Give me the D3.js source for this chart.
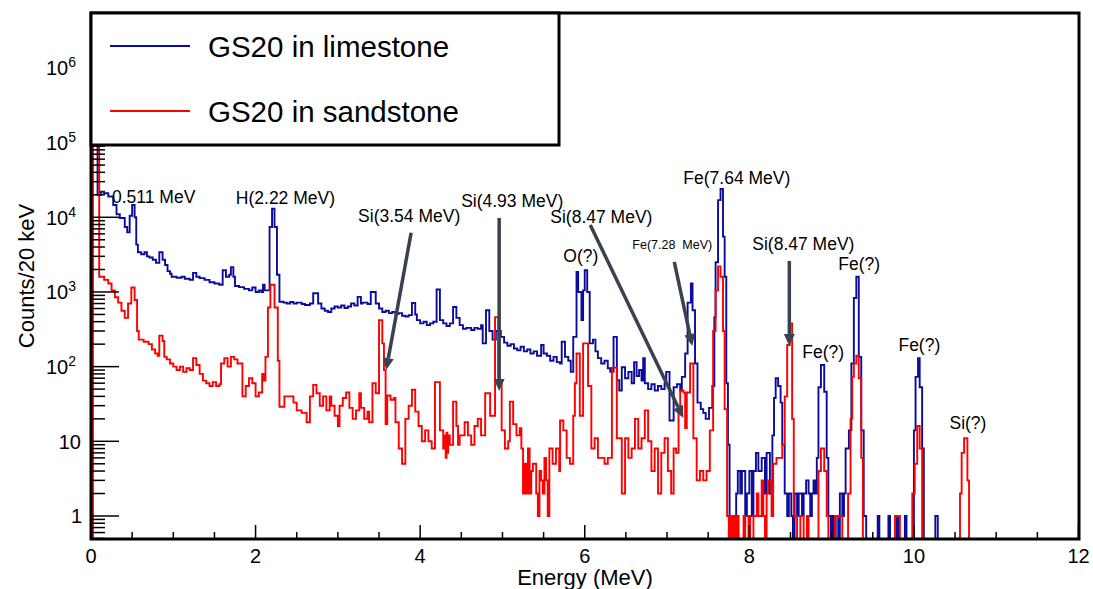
<!DOCTYPE html>
<html>
<head>
<meta charset="utf-8">
<script src="https://cdn.jsdelivr.net/npm/d3@7"></script>
<style>
  html, body { margin: 0; padding: 0; background: #ffffff; }
  text { font-family: "Liberation Sans", Arial, Helvetica, sans-serif; fill: #000; }
</style>
</head>
<body>
<svg id="chart" width="1093" height="589"></svg>
<script>
// ---------------- DATA ----------------
// Each entry: [bin lower edge in MeV, counts per 20 keV]; a bin lasts until the next edge (last one to 12 MeV).
const limestoneBins = [
  [0,0],[0.02,250000],[0.08,19800],[0.12,22000],[0.16,21000],[0.21,19000],[0.27,14600],[0.31,11000],[0.35,9800],
  [0.41,7400],[0.44,6300],[0.47,10500],[0.50,14600],[0.53,10000],[0.55,4300],[0.57,3400],[0.61,3200],[0.65,3400],
  [0.68,3000],[0.71,2900],[0.75,2700],[0.79,2450],[0.83,3400],[0.87,2700],[0.90,2300],[0.93,1900],[0.96,1750],
  [0.98,1600],[1.04,1550],[1.10,1600],[1.14,1500],[1.20,1450],[1.24,1800],[1.28,1600],[1.32,1530],[1.38,1450],
  [1.44,1350],[1.50,1300],[1.56,1250],[1.60,1950],[1.64,1600],[1.68,1700],[1.70,2150],[1.73,1600],[1.75,1200],
  [1.80,1160],[1.86,1100],[1.92,1050],[1.96,1150],[2.00,1000],[2.04,1050],[2.07,1000],[2.09,1250],[2.11,1050],
  [2.17,7400],[2.20,13000],[2.23,7400],[2.26,1700],[2.29,740],[2.34,720],[2.38,700],[2.42,735],[2.46,700],
  [2.50,720],[2.56,690],[2.60,670],[2.66,700],[2.70,960],[2.76,700],[2.80,600],[2.84,560],[2.88,540],[2.92,600],
  [2.96,640],[3.00,620],[3.04,660],[3.08,610],[3.12,640],[3.16,700],[3.20,660],[3.24,860],[3.28,700],[3.30,720],
  [3.36,690],[3.40,1000],[3.46,700],[3.50,600],[3.54,540],[3.58,560],[3.62,520],[3.66,540],[3.70,510],[3.74,520],
  [3.78,480],[3.82,470],[3.86,490],[3.90,710],[3.94,500],[3.96,420],[4.00,380],[4.04,400],[4.08,360],[4.12,380],
  [4.16,400],[4.20,1080],[4.24,420],[4.28,380],[4.32,350],[4.36,380],[4.40,630],[4.44,450],[4.48,360],[4.52,320],
  [4.56,330],[4.62,310],[4.66,330],[4.70,320],[4.74,360],[4.76,205],[4.80,570],[4.84,300],[4.88,230],[4.92,300],
  [4.98,250],[5.02,210],[5.06,190],[5.10,200],[5.14,175],[5.18,165],[5.22,185],[5.26,160],[5.30,170],[5.34,150],
  [5.38,160],[5.42,140],[5.47,195],[5.50,150],[5.54,140],[5.58,120],[5.62,135],[5.66,115],[5.70,110],[5.72,215],
  [5.76,135],[5.80,120],[5.83,85],[5.86,250],[5.90,1850],[5.92,1000],[5.96,420],[5.98,1050],[6.00,1950],[6.03,1000],
  [6.06,205],[6.10,230],[6.13,160],[6.16,130],[6.20,110],[6.24,120],[6.28,95],[6.31,85],[6.35,250],[6.39,66],
  [6.42,48],[6.45,98],[6.49,70],[6.53,85],[6.57,60],[6.60,115],[6.63,75],[6.66,90],[6.69,65],[6.71,130],[6.73,60],
  [6.77,50],[6.81,58],[6.85,48],[6.89,55],[6.93,50],[6.97,60],[6.99,85],[7.03,19],[7.08,53],[7.12,58],[7.16,48],
  [7.18,73],[7.22,150],[7.25,720],[7.29,1300],[7.31,570],[7.34,110],[7.37,33],[7.41,27],[7.44,24],[7.47,20],
  [7.51,28],[7.55,55],[7.575,460],[7.59,2500],[7.62,17000],[7.65,24000],[7.68,5500],[7.70,1600],[7.72,60],[7.74,9],
  [7.76,1],[7.84,2],[7.86,4],[7.89,2],[7.91,4],[7.95,1],[7.97,2],[8.00,4],[8.03,1],[8.05,4],[8.08,7],[8.11,4],
  [8.15,6],[8.19,2],[8.21,7],[8.25,2],[8.28,12],[8.30,38],[8.32,70],[8.35,55],[8.38,33],[8.40,9],[8.43,2],[8.46,1],
  [8.48,2],[8.51,1],[8.53,0],[8.55,2],[8.58,1],[8.60,2],[8.64,1],[8.66,2],[8.69,3],[8.72,2],[8.74,1],[8.76,2],
  [8.78,3],[8.80,2],[8.82,6],[8.84,53],[8.87,105],[8.91,46],[8.94,6],[8.96,1],[8.99,0],[9.01,1],[9.03,0],[9.05,1],
  [9.08,0],[9.10,2],[9.13,1],[9.15,2],[9.17,8],[9.21,14],[9.24,110],[9.27,830],[9.30,1600],[9.33,135],[9.36,14],
  [9.39,1],[9.42,0],[9.56,1],[9.58,0],[9.69,1],[9.71,0],[9.79,1],[9.81,0],[9.89,1],[9.91,0],[10.00,14],[10.02,73],
  [10.05,130],[10.07,53],[10.10,8],[10.12,0],[10.26,1],[10.29,0]
];

const sandstoneBins = [
  [0,0],[0.02,300000],[0.10,1600],[0.16,1450],[0.21,1300],[0.25,1050],[0.29,850],[0.33,720],[0.37,560],[0.41,450],
  [0.45,700],[0.49,1150],[0.53,780],[0.56,300],[0.58,230],[0.64,215],[0.70,200],[0.74,170],[0.78,150],[0.81,140],
  [0.83,260],[0.87,220],[0.89,135],[0.92,125],[0.96,110],[1.00,100],[1.04,90],[1.08,100],[1.12,85],[1.16,95],
  [1.20,90],[1.24,130],[1.28,105],[1.32,80],[1.36,65],[1.40,60],[1.44,55],[1.48,62],[1.52,55],[1.56,58],[1.58,110],
  [1.62,130],[1.66,100],[1.70,135],[1.74,125],[1.78,110],[1.84,40],[1.88,55],[1.92,70],[1.96,60],[2.00,40],
  [2.04,45],[2.08,80],[2.10,65],[2.12,135],[2.15,620],[2.18,1250],[2.23,620],[2.27,120],[2.29,29],[2.35,40],
  [2.40,40],[2.46,33],[2.50,26],[2.56,24],[2.62,18],[2.66,40],[2.70,57],[2.74,44],[2.78,30],[2.82,40],[2.86,26],
  [2.90,40],[2.92,30],[2.96,22],[3.00,16],[3.02,30],[3.06,38],[3.10,45],[3.14,28],[3.18,20],[3.22,26],[3.26,44],
  [3.28,28],[3.32,20],[3.36,25],[3.38,18],[3.42,60],[3.46,44],[3.50,420],[3.54,205],[3.56,90],[3.58,17],[3.60,41],
  [3.64,36],[3.68,38],[3.70,18],[3.74,8],[3.78,5],[3.82,20],[3.86,30],[3.90,49],[3.94,25],[3.98,16],[4.02,10],
  [4.06,14],[4.10,10],[4.14,8],[4.18,62],[4.24,14],[4.28,8],[4.30,12],[4.31,6],[4.32,13],[4.33,7],[4.34,12],
  [4.36,9],[4.40,34],[4.44,16],[4.46,9],[4.48,12],[4.54,18],[4.58,12],[4.62,9],[4.66,16],[4.70,20],[4.74,12],
  [4.79,44],[4.85,22],[4.91,460],[4.95,60],[4.99,14],[5.03,8],[5.07,10],[5.09,34],[5.13,17],[5.17,12],[5.21,15],
  [5.23,8],[5.25,2],[5.27,5],[5.29,2],[5.31,8],[5.33,2],[5.35,4],[5.37,5],[5.41,2],[5.43,1],[5.45,4],[5.47,3],
  [5.49,2],[5.51,6],[5.53,3],[5.55,1],[5.57,8],[5.61,5],[5.65,8],[5.69,4],[5.70,19],[5.74,14],[5.78,6],[5.82,5],
  [5.86,22],[5.88,60],[5.90,150],[5.94,22],[5.98,205],[6.04,55],[6.08,8],[6.12,11],[6.16,6],[6.20,6],[6.24,5],
  [6.28,6],[6.33,97],[6.39,11],[6.45,2],[6.49,11],[6.53,6],[6.57,8],[6.61,20],[6.65,8],[6.69,11],[6.73,26],
  [6.77,10],[6.81,4],[6.85,8],[6.89,2],[6.93,7],[6.97,11],[7.01,4],[7.05,2],[7.08,8],[7.11,7],[7.14,26],[7.16,48],
  [7.20,45],[7.22,15],[7.24,45],[7.28,110],[7.32,11],[7.36,3],[7.40,4],[7.44,3],[7.48,4],[7.52,14],[7.56,300],
  [7.59,1050],[7.62,2200],[7.65,1600],[7.68,300],[7.70,27],[7.73,1],[7.75,0],[7.77,1],[7.79,0],[7.81,1],[7.83,0],
  [7.85,1],[7.87,0],[7.93,1],[7.95,0],[7.99,1],[8.01,0],[8.05,1],[8.09,2],[8.11,1],[8.15,3],[8.17,1],[8.19,0],
  [8.21,2],[8.23,3],[8.27,1],[8.29,5],[8.33,6],[8.37,6],[8.40,9],[8.43,40],[8.46,195],[8.49,380],[8.52,20],
  [8.54,1],[8.58,0],[8.62,1],[8.66,0],[8.70,1],[8.72,0],[8.84,4],[8.87,8],[8.91,4],[8.94,1],[8.96,0],[9.04,1],
  [9.13,0],[9.20,2],[9.23,20],[9.25,73],[9.27,110],[9.30,140],[9.33,70],[9.36,6],[9.38,0],[9.77,1],[9.83,0],
  [9.98,2],[10.01,5],[10.04,16],[10.07,8],[10.10,0],[10.56,2],[10.58,7],[10.61,11],[10.65,3],[10.67,0]
];

const seriesNames = ["GS20 in limestone", "GS20 in sandstone"];
const seriesColors = ["#0c0c9c", "#ff0000"];

const xTickValues = [0, 2, 4, 6, 8, 10, 12];
const yTickPowers = [0, 1, 2, 3, 4, 5, 6];

const xTitle = "Energy (MeV)";
const yTitle = "Counts/20 keV";

// annotation labels: text, energy of left edge, count at baseline
const noteTexts  = ["0.511 MeV", "H(2.22 MeV)", "Si(3.54 MeV)", "Si(4.93 MeV)", "Si(8.47 MeV)", "O(?)",
                    "Fe(7.28\u00a0 MeV)", "Fe(7.64 MeV)", "Si(8.47 MeV)", "Fe(?)", "Fe(?)", "Fe(?)", "Si(?)"];
const noteEnergy = [0.255, 1.76, 3.246, 4.498, 5.581, 5.739, 6.578, 7.198, 8.036, 8.644, 9.082, 9.812, 10.432];
const noteCounts = [15560, 15000, 8650, 13750, 8390, 2520, 3765, 27940, 3650, 130, 1970, 162, 14.6];
const noteSmall  = [false, false, false, false, false, false, true, false, false, false, false, false, false];

// arrows: from (E0, C0) to (E1, C1)
const arrowE0 = [3.89, 4.96, 6.067, 7.088, 8.486];
const arrowC0 = [6200, 9800, 7890, 2522, 2600];
const arrowE1 = [3.587, 4.96, 7.198, 7.307, 8.486];
const arrowC1 = [90, 47, 20.5, 189, 189];

// ---------------- DRAWING ----------------
const svg = d3.select("#chart");
const L = 91, R = 1079, T = 13, B = 539;
const yMin = 0.4919, yMax = 5.44e6;

const x = d3.scaleLinear().domain([0, 12]).range([L, 1078.5]);
const y = d3.scaleLog().domain([yMin, yMax]).range([B, T]).clamp(true);

svg.append("rect").attr("width", 1093).attr("height", 589).attr("fill", "#fff");

svg.append("defs").append("clipPath").attr("id", "plotclip")
  .append("rect").attr("x", L).attr("y", T).attr("width", R - L).attr("height", B - T);

// histograms
function histPath(bins) {
  const pts = bins.map(b => [x(b[0]), y(Math.max(b[1], yMin))]);
  pts.push([x(12), pts[pts.length - 1][1]]);
  return d3.line().curve(d3.curveStepAfter)(pts);
}
const gHist = svg.append("g").attr("clip-path", "url(#plotclip)");
[limestoneBins, sandstoneBins].forEach((bins, i) => {
  gHist.append("path")
    .attr("d", histPath(bins))
    .attr("fill", "none")
    .attr("stroke", seriesColors[i])
    .attr("stroke-width", 1.9)
    .attr("stroke-linejoin", "miter");
});

// ticks
const gAxis = svg.append("g").attr("stroke", "#000").attr("stroke-width", 1.5);
// y ticks (inside, to the right of the axis)
for (let d = -1; d <= 6; d++) {
  for (let m = 1; m <= 9; m++) {
    const v = m * Math.pow(10, d);
    if (v < yMin || v > yMax) continue;
    const len = (m === 1) ? 28 : 14;
    gAxis.append("line").attr("x1", L).attr("x2", L + len)
      .attr("y1", y(v)).attr("y2", y(v));
  }
}
// x ticks (upward)
d3.range(0, 12.01, 0.5).forEach(v => {
  const major = Math.abs(v / 2 - Math.round(v / 2)) < 1e-6;
  const len = major ? 14 : 7;
  gAxis.append("line").attr("x1", x(v)).attr("x2", x(v))
    .attr("y1", B).attr("y2", B - len);
});

// tick labels
xTickValues.forEach(v => {
  svg.append("text").attr("x", x(v)).attr("y", 563)
    .attr("text-anchor", "middle").attr("font-size", 20).text(v);
});
yTickPowers.forEach(p => {
  const ty = y(Math.pow(10, p)) + 7.5;
  if (p === 0) {
    svg.append("text").attr("x", 82).attr("y", ty).attr("text-anchor", "end").attr("font-size", 20).text("1");
  } else if (p === 1) {
    svg.append("text").attr("x", 81).attr("y", ty).attr("text-anchor", "end").attr("font-size", 20).text("10");
  } else {
    const t = svg.append("text").attr("x", 76).attr("y", ty).attr("text-anchor", "end").attr("font-size", 20);
    t.append("tspan").text("10");
    t.append("tspan").attr("dy", -8).attr("font-size", 14).text(p);
  }
});

// axis titles
svg.append("text").attr("x", 585).attr("y", 585).attr("text-anchor", "middle")
  .attr("font-size", 22).text(xTitle);
svg.append("text").attr("transform", "translate(34,276) rotate(-90)")
  .attr("text-anchor", "middle").attr("font-size", 22).text(yTitle);

// annotations
noteTexts.forEach((t, i) => {
  svg.append("text")
    .attr("x", x(noteEnergy[i])).attr("y", y(noteCounts[i]))
    .attr("font-size", noteSmall[i] ? 12.5 : 17.5)
    .style("white-space", "pre")
    .text(t);
});

// arrows
const arrowColor = "#39424e";
arrowE0.forEach((e0, i) => {
  const x0 = x(e0), y0 = y(arrowC0[i]), x1 = x(arrowE1[i]), y1 = y(arrowC1[i]);
  const ang = Math.atan2(y1 - y0, x1 - x0);
  const hl = 12, hw = 5.5;
  const bx = x1 - hl * Math.cos(ang), by = y1 - hl * Math.sin(ang);
  svg.append("line").attr("x1", x0).attr("y1", y0).attr("x2", bx).attr("y2", by)
    .attr("stroke", arrowColor).attr("stroke-width", 3.5);
  const px = -Math.sin(ang), py = Math.cos(ang);
  svg.append("path")
    .attr("d", `M${x1},${y1}L${bx + hw * px},${by + hw * py}L${bx - hw * px},${by - hw * py}Z`)
    .attr("fill", arrowColor);
});

// frame
svg.append("rect").attr("x", L).attr("y", T).attr("width", R - L).attr("height", B - T)
  .attr("fill", "none").attr("stroke", "#000").attr("stroke-width", 3);

// legend
const lg = svg.append("g");
lg.append("rect").attr("x", 91).attr("y", 13).attr("width", 468).attr("height", 132)
  .attr("fill", "#fff").attr("stroke", "#000").attr("stroke-width", 3);
const legendY = [46, 111];
seriesNames.forEach((n, i) => {
  lg.append("line").attr("x1", 110).attr("x2", 190).attr("y1", legendY[i]).attr("y2", legendY[i])
    .attr("stroke", seriesColors[i]).attr("stroke-width", 1.8);
  lg.append("text").attr("x", 208).attr("y", legendY[i] + 11).attr("font-size", 29.5).text(n);
});
</script>
</body>
</html>
